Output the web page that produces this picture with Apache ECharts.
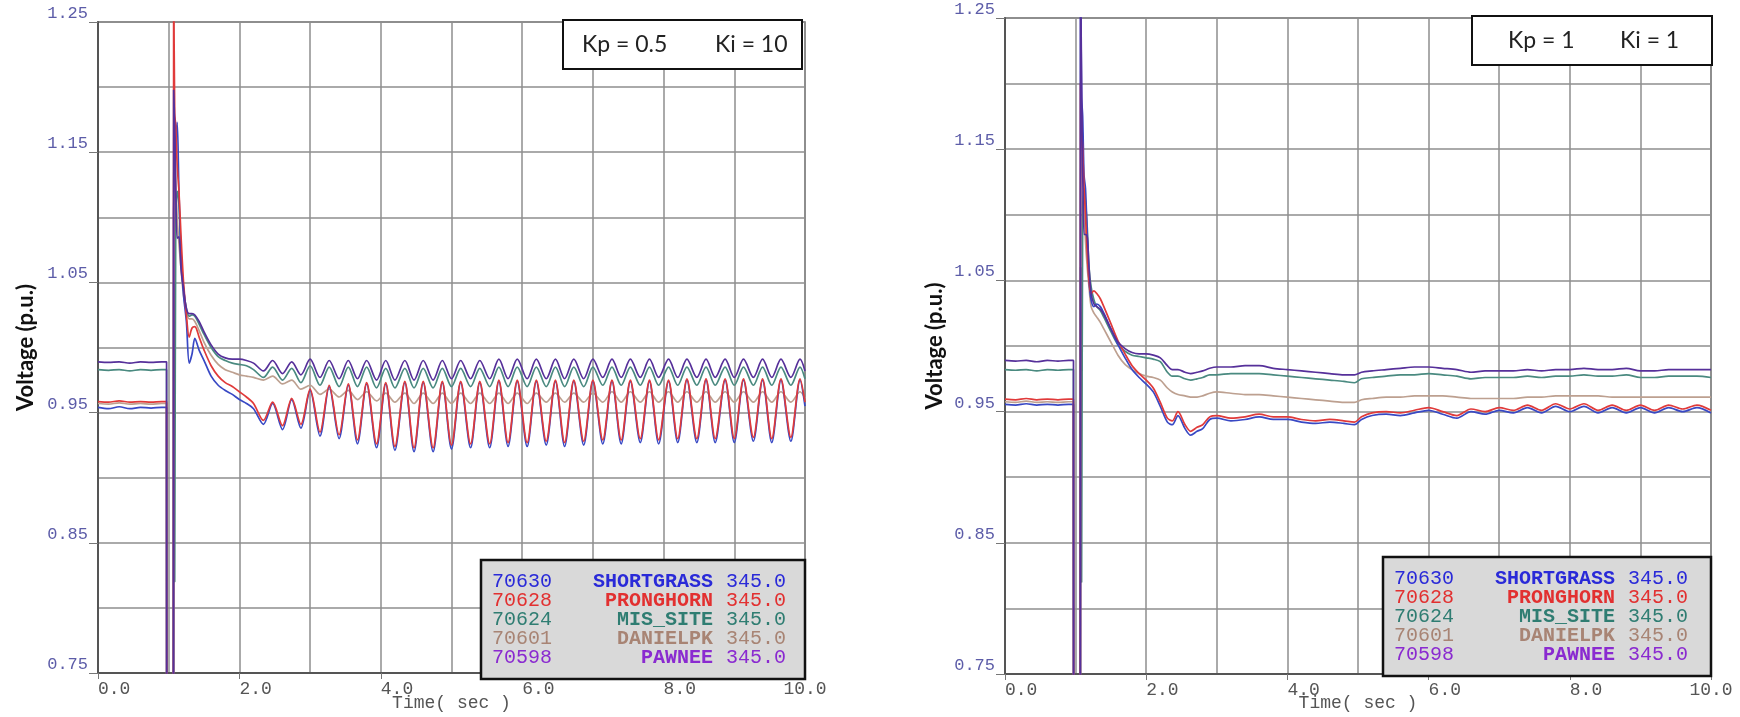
<!DOCTYPE html>
<html>
<head>
<meta charset="utf-8">
<script src="https://cdn.jsdelivr.net/npm/echarts@6.0.0/dist/echarts.min.js"></script>
<style>
  html, body { margin: 0; padding: 0; background: #ffffff; }
  #chart { width: 1740px; height: 717px; }
</style>
</head>
<body>
<div id="chart"></div>
<script>
// ---- Bus list (legend rows) ----
const busIds = ['70630', '70628', '70624', '70601', '70598'];
const busNames = ['SHORTGRASS', 'PRONGHORN', 'MIS_SITE', 'DANIELPK', 'PAWNEE'];
const busKv = [345.0, 345.0, 345.0, 345.0, 345.0];

// ---- Controller gains of the two runs ----
const kpGain = [0.5, 1];
const kiGain = [10, 1];

// ---- Axis tick labels ----
const xTicks = [0, 2, 4, 6, 8, 10];
const yTicks = [0.75, 0.85, 0.95, 1.05, 1.15, 1.25];

// ---- Run A: Kp = 0.5, Ki = 10 (time in s, voltage in p.u.) ----
const tA = [0, 0.15, 0.3, 0.45, 0.6, 0.75, 0.9, 0.97,
  0.975, 1.065,
  1.07, 1.085, 1.1, 1.12, 1.145, 1.175, 1.21, 1.25, 1.29, 1.33, 1.37, 1.43, 1.5, 1.6, 1.7, 1.8, 1.9, 2.0, 2.1, 2.2,
  2.34, 2.47, 2.61, 2.74, 2.87, 3.0, 3.14, 3.27, 3.41, 3.54, 3.67, 3.8, 3.94, 4.07, 4.2, 4.34, 4.47, 4.6, 4.74, 4.87,
  5.0, 5.13, 5.27, 5.4, 5.54, 5.67, 5.8, 5.93, 6.07, 6.2, 6.34, 6.47, 6.6, 6.73, 6.87, 7.0, 7.14, 7.27, 7.4, 7.53,
  7.67, 7.8, 7.93, 8.07, 8.2, 8.33, 8.47, 8.6, 8.73, 8.87, 9.0, 9.13, 9.27, 9.4, 9.53, 9.66, 9.8, 9.93, 10.0];

const shortgrassA = [0.954, 0.953, 0.9545, 0.953, 0.954, 0.9535, 0.954, 0.954,
  0.3, 0.3,
  1.1, 1.14, 1.16, 1.173, 1.12, 1.07, 1.04, 1.02, 0.988, 0.995, 1.007, 0.998, 0.99, 0.978, 0.971, 0.967, 0.964, 0.96, 0.957, 0.953,
  0.941, 0.957, 0.937, 0.96, 0.938, 0.967, 0.932, 0.97, 0.93, 0.971, 0.926, 0.972, 0.923, 0.972, 0.921, 0.973, 0.92, 0.973, 0.92, 0.973,
  0.922, 0.973, 0.923, 0.973, 0.923, 0.974, 0.924, 0.974, 0.924, 0.974, 0.925, 0.974, 0.924, 0.974, 0.925, 0.974, 0.926, 0.974, 0.926, 0.974,
  0.927, 0.974, 0.926, 0.974, 0.927, 0.975, 0.927, 0.975, 0.927, 0.975, 0.927, 0.975, 0.928, 0.975, 0.927, 0.975, 0.928, 0.975, 0.955];

const pronghornA = [0.9585, 0.958, 0.959, 0.958, 0.9585, 0.958, 0.9585, 0.9585,
  0.3, 0.3,
  1.3, 1.18, 1.17, 1.14, 1.12, 1.085, 1.05, 1.025, 1.008, 1.015, 1.016, 1.008, 0.998, 0.986, 0.978, 0.973, 0.97, 0.966, 0.962, 0.957,
  0.944, 0.958, 0.94, 0.961, 0.941, 0.968, 0.935, 0.971, 0.933, 0.972, 0.929, 0.973, 0.926, 0.973, 0.924, 0.974, 0.923, 0.974, 0.923, 0.974,
  0.925, 0.974, 0.926, 0.974, 0.926, 0.975, 0.927, 0.975, 0.927, 0.975, 0.928, 0.975, 0.927, 0.975, 0.928, 0.975, 0.929, 0.975, 0.929, 0.975,
  0.93, 0.975, 0.929, 0.975, 0.93, 0.976, 0.93, 0.976, 0.93, 0.976, 0.93, 0.976, 0.931, 0.976, 0.93, 0.976, 0.931, 0.976, 0.958];

const misSiteA = [0.983, 0.9825, 0.983, 0.982, 0.983, 0.9825, 0.983, 0.983,
  0.3, 0.3,
  1.05, 0.82, 1.1, 1.12, 1.11, 1.07, 1.045, 1.03, 1.024, 1.025, 1.024, 1.018, 1.01, 1.0, 0.993, 0.99, 0.988, 0.987, 0.986, 0.983,
  0.977, 0.985, 0.975, 0.984, 0.973, 0.986, 0.971, 0.985, 0.97, 0.985, 0.97, 0.985, 0.969, 0.984, 0.969, 0.984, 0.969, 0.984, 0.969, 0.984,
  0.97, 0.984, 0.97, 0.984, 0.97, 0.985, 0.97, 0.985, 0.97, 0.985, 0.97, 0.985, 0.97, 0.985, 0.97, 0.985, 0.971, 0.985, 0.971, 0.985,
  0.971, 0.985, 0.971, 0.985, 0.971, 0.985, 0.971, 0.985, 0.971, 0.985, 0.971, 0.985, 0.971, 0.985, 0.971, 0.985, 0.971, 0.985, 0.976];

const danielpkA = [0.957, 0.9565, 0.9575, 0.9565, 0.957, 0.9565, 0.957, 0.957,
  0.3, 0.3,
  1.12, 1.15, 1.13, 1.1, 1.08, 1.06, 1.04, 1.028, 1.022, 1.022, 1.02, 1.013, 1.004, 0.994, 0.987, 0.983, 0.981, 0.979, 0.978, 0.977,
  0.975, 0.978, 0.972, 0.975, 0.968, 0.971, 0.964, 0.968, 0.962, 0.967, 0.96, 0.966, 0.959, 0.965, 0.958, 0.965, 0.957, 0.965, 0.957, 0.965,
  0.957, 0.965, 0.957, 0.965, 0.957, 0.965, 0.957, 0.965, 0.957, 0.965, 0.958, 0.965, 0.958, 0.965, 0.958, 0.965, 0.958, 0.966, 0.958, 0.966,
  0.958, 0.966, 0.958, 0.966, 0.958, 0.966, 0.958, 0.966, 0.958, 0.966, 0.958, 0.966, 0.958, 0.966, 0.958, 0.966, 0.958, 0.966, 0.961];

const pawneeA = [0.989, 0.9885, 0.989, 0.988, 0.989, 0.9885, 0.989, 0.989,
  0.3, 0.3,
  1.198, 1.17, 1.12, 1.084, 1.085, 1.06, 1.045, 1.03, 1.026, 1.026, 1.025, 1.02, 1.012, 1.002, 0.995, 0.992, 0.991, 0.991, 0.99, 0.988,
  0.982, 0.99, 0.98, 0.989, 0.979, 0.991, 0.977, 0.99, 0.976, 0.99, 0.976, 0.99, 0.975, 0.99, 0.975, 0.99, 0.975, 0.99, 0.975, 0.99,
  0.976, 0.99, 0.976, 0.99, 0.976, 0.991, 0.976, 0.991, 0.976, 0.991, 0.976, 0.991, 0.976, 0.991, 0.976, 0.991, 0.977, 0.991, 0.977, 0.991,
  0.977, 0.991, 0.977, 0.991, 0.977, 0.991, 0.977, 0.991, 0.977, 0.991, 0.977, 0.991, 0.977, 0.991, 0.977, 0.991, 0.977, 0.991, 0.982];

// ---- Run B: Kp = 1, Ki = 1 ----
const tB = [0, 0.15, 0.3, 0.45, 0.6, 0.75, 0.9, 0.97,
  0.975, 1.065,
  1.07, 1.085, 1.1, 1.12, 1.14, 1.165, 1.19, 1.22, 1.26, 1.3, 1.35, 1.4, 1.5, 1.6, 1.7, 1.8, 1.9, 2.0, 2.1, 2.2,
  2.3, 2.37, 2.45, 2.55, 2.63, 2.72, 2.8, 2.9,
  3.0, 3.2, 3.4, 3.6, 3.8, 4.0, 4.2, 4.4, 4.6, 4.8, 4.95,
  5.05, 5.2, 5.4, 5.6, 5.8, 6.0, 6.2, 6.4, 6.6, 6.8, 7.0, 7.2, 7.4, 7.6, 7.8, 8.0, 8.2, 8.4, 8.6, 8.8, 9.0, 9.2, 9.4, 9.6, 9.8, 10.0];

const shortgrassB = [0.9555, 0.955, 0.956, 0.955, 0.9555, 0.955, 0.9555, 0.9555,
  0.3, 0.3,
  1.3, 1.19, 1.175, 1.13, 1.12, 1.085, 1.05, 1.035, 1.03, 1.032, 1.03, 1.025, 1.013, 1.001, 0.991, 0.982, 0.976, 0.971, 0.965, 0.954,
  0.942, 0.94, 0.947, 0.937, 0.932, 0.935, 0.937, 0.944,
  0.945, 0.943, 0.944, 0.946, 0.944, 0.944, 0.942, 0.941, 0.942, 0.941, 0.94,
  0.944, 0.947, 0.948, 0.947, 0.949, 0.951, 0.948, 0.945, 0.95, 0.948, 0.951, 0.949, 0.953, 0.949, 0.954, 0.95, 0.954, 0.949, 0.953, 0.949,
  0.953, 0.949, 0.953, 0.95, 0.953, 0.949];

const pronghornB = [0.9595, 0.959, 0.96, 0.959, 0.9595, 0.959, 0.9595, 0.9595,
  0.3, 0.3,
  1.2, 1.165, 1.15, 1.12, 1.1, 1.07, 1.05, 1.04, 1.042, 1.04, 1.036, 1.03, 1.017, 1.004, 0.994, 0.985, 0.979, 0.974, 0.968, 0.957,
  0.945, 0.943, 0.95, 0.94, 0.935, 0.938, 0.94, 0.946,
  0.947, 0.945, 0.946, 0.948, 0.946, 0.946, 0.944, 0.943, 0.944, 0.943, 0.942,
  0.946, 0.949, 0.95, 0.949, 0.951, 0.953, 0.95, 0.947, 0.952, 0.95, 0.953, 0.951, 0.955, 0.951, 0.956, 0.952, 0.956, 0.951, 0.955, 0.951,
  0.955, 0.951, 0.955, 0.952, 0.955, 0.951];

const misSiteB = [0.982, 0.9815, 0.982, 0.981, 0.982, 0.9815, 0.982, 0.982,
  0.3, 0.3,
  1.06, 0.82, 1.1, 1.12, 1.11, 1.09, 1.06, 1.045, 1.035, 1.03, 1.027, 1.022, 1.011, 1.001, 0.996, 0.993, 0.992, 0.991, 0.99, 0.988,
  0.98, 0.977, 0.977, 0.975, 0.974, 0.975, 0.976, 0.978,
  0.978, 0.979, 0.979, 0.979, 0.978, 0.977, 0.976, 0.975, 0.974, 0.973, 0.972,
  0.975, 0.976, 0.977, 0.978, 0.978, 0.979, 0.978, 0.977, 0.975, 0.976, 0.976, 0.976, 0.977, 0.976, 0.977, 0.977, 0.978, 0.977, 0.977, 0.978,
  0.976, 0.976, 0.977, 0.977, 0.977, 0.976];

const danielpkB = [0.9575, 0.957, 0.958, 0.957, 0.9575, 0.957, 0.9575, 0.9575,
  0.3, 0.3,
  1.1, 1.16, 1.13, 1.11, 1.08, 1.06, 1.045, 1.03, 1.025, 1.022, 1.018, 1.013, 1.003, 0.993, 0.986, 0.982, 0.979, 0.977, 0.976, 0.974,
  0.968, 0.965, 0.963, 0.962, 0.961, 0.961, 0.962, 0.964,
  0.965, 0.964, 0.963, 0.963, 0.962, 0.961, 0.96, 0.959, 0.958, 0.957, 0.957,
  0.959, 0.96, 0.961, 0.961, 0.962, 0.962, 0.962, 0.961, 0.96, 0.96, 0.96, 0.96, 0.961, 0.961, 0.962, 0.962, 0.962, 0.962, 0.961, 0.961,
  0.961, 0.961, 0.961, 0.961, 0.961, 0.961];

const pawneeB = [0.989, 0.9885, 0.989, 0.988, 0.989, 0.9885, 0.989, 0.989,
  0.3, 0.3,
  1.3, 1.198, 1.14, 1.085, 1.085, 1.083, 1.06, 1.04, 1.032, 1.03, 1.028, 1.024, 1.013, 1.003, 0.998, 0.995, 0.994, 0.994, 0.993, 0.991,
  0.985, 0.982, 0.982, 0.98, 0.979, 0.98, 0.981, 0.983,
  0.984, 0.984, 0.985, 0.985, 0.983, 0.982, 0.981, 0.98, 0.979, 0.978, 0.978,
  0.98, 0.981, 0.982, 0.983, 0.984, 0.984, 0.983, 0.982, 0.98, 0.981, 0.981, 0.981, 0.982, 0.981, 0.982, 0.982, 0.983, 0.982, 0.982, 0.983,
  0.981, 0.981, 0.982, 0.982, 0.982, 0.982];

// ---- Styling ----
const lineColors = ['#3848c4', '#e03a3a', '#4a8a80', '#bda090', '#56309a'];
const legendColors = ['#2a2ad8', '#e23030', '#2f7d72', '#a88474', '#8a2ad0'];
const drawOrder = [3, 2, 0, 1, 4];
const monoFont = 'Liberation Mono';

const panels = [
  {
    time: tA,
    values: [shortgrassA, pronghornA, misSiteA, danielpkA, pawneeA],
    grid: { left: 98, top: 22, width: 707, height: 657 },
    note: { x: 563, y: 20, w: 239, h: 49, kpX: 582, kiX: 715 },
    legend: { x: 481, y: 560, w: 324, h: 119 },
    yNameGap: 61, xNameGap: 21
  },
  {
    time: tB,
    values: [shortgrassB, pronghornB, misSiteB, danielpkB, pawneeB],
    grid: { left: 1005, top: 18, width: 706, height: 658 },
    note: { x: 1472, y: 16, w: 240, h: 49, kpX: 1508, kiX: 1620 },
    legend: { x: 1383, y: 557, w: 328, h: 119 },
    yNameGap: 59, xNameGap: 20
  }
];

const grids = [], xAxes = [], yAxes = [], series = [], graphic = [];

panels.forEach((p, pi) => {
  grids.push(Object.assign({ show: true, borderColor: '#6a6a6a', borderWidth: 1.5, containLabel: false }, p.grid));
  const gx = pi * 2;

  // axes carrying the grid lines
  xAxes.push({
    gridIndex: pi, type: 'value', min: 0, max: 10, interval: 1, position: 'bottom',
    axisLine: { show: true, lineStyle: { color: '#555', width: 2 } },
    axisTick: { show: false }, axisLabel: { show: false },
    splitLine: { show: true, lineStyle: { color: '#8e8e8e', width: 1.5 } },
    name: 'Time( sec )', nameLocation: 'middle', nameGap: p.xNameGap,
    nameTextStyle: { fontFamily: monoFont, fontSize: 18, color: '#555' }
  });
  // axes carrying the tick labels
  xAxes.push({
    gridIndex: pi, type: 'value', min: 0, max: 10, interval: 2, position: 'bottom',
    axisLine: { show: false },
    axisTick: { show: true, length: 6, customValues: xTicks, lineStyle: { color: '#777', width: 1 } },
    axisLabel: { customValues: xTicks, formatter: v => Number(v).toFixed(1), color: '#555',
      fontFamily: monoFont, fontSize: 18, margin: 7, align: 'left', alignMaxLabel: 'center' },
    splitLine: { show: false }
  });

  yAxes.push({
    gridIndex: pi, type: 'value', min: 0.75, max: 1.25, interval: 0.05, position: 'left',
    axisLine: { show: true, lineStyle: { color: '#555', width: 2 } },
    axisTick: { show: false }, axisLabel: { show: false },
    splitLine: { show: true, lineStyle: { color: '#8e8e8e', width: 1.5 } },
    name: 'Voltage (p.u.)', nameLocation: 'middle', nameGap: p.yNameGap, nameRotate: 90,
    nameTextStyle: { fontFamily: 'Lato', fontWeight: 'bold', fontSize: 22, color: '#111' }
  });
  yAxes.push({
    gridIndex: pi, type: 'value', min: 0.75, max: 1.25, position: 'left',
    axisLine: { show: false },
    axisTick: { show: true, length: 9, customValues: yTicks, lineStyle: { color: '#777', width: 1 } },
    axisLabel: { customValues: yTicks, formatter: v => Number(v).toFixed(2), color: '#5c5ca8',
      fontFamily: monoFont, fontSize: 17, margin: 10, verticalAlign: 'bottom' },
    splitLine: { show: false }
  });

  drawOrder.forEach(k => {
    series.push({
      type: 'line', name: busNames[k],
      xAxisIndex: gx, yAxisIndex: gx,
      data: p.time.map((t, i) => [t, p.values[k][i]]),
      showSymbol: false, symbol: 'none', smooth: 0.3, clip: true,
      lineStyle: { color: lineColors[k], width: 1.7 },
      itemStyle: { color: lineColors[k] },
      emphasis: { disabled: true }
    });
  });

  // gain annotation
  const n = p.note;
  graphic.push({ type: 'rect', z: 100, shape: { x: n.x, y: n.y, width: n.w, height: n.h },
    style: { fill: '#ffffff', stroke: '#111', lineWidth: 2 } });
  graphic.push({ type: 'text', z: 101, x: n.kpX, y: n.y + n.h / 2,
    style: { text: 'Kp = ' + kpGain[pi], font: '23px Lato', fill: '#222',
      align: 'left', verticalAlign: 'middle', textAlign: 'left', textVerticalAlign: 'middle' } });
  graphic.push({ type: 'text', z: 101, x: n.kiX, y: n.y + n.h / 2,
    style: { text: 'Ki = ' + kiGain[pi], font: '23px Lato', fill: '#222',
      align: 'left', verticalAlign: 'middle', textAlign: 'left', textVerticalAlign: 'middle' } });

  // bus legend
  const L = p.legend;
  graphic.push({ type: 'rect', z: 100, shape: { x: L.x, y: L.y, width: L.w, height: L.h },
    style: { fill: '#d9d9d9', stroke: '#111', lineWidth: 2.5 } });
  busIds.forEach((id, k) => {
    const cy = L.y + 22 + 19 * k;
    const col = legendColors[k];
    graphic.push({ type: 'text', z: 101, x: L.x + 11, y: cy,
      style: { text: id, font: '20px "' + monoFont + '"', fill: col,
        align: 'left', verticalAlign: 'middle', textAlign: 'left', textVerticalAlign: 'middle' } });
    graphic.push({ type: 'text', z: 101, x: L.x + 232, y: cy,
      style: { text: busNames[k], font: 'bold 20px "' + monoFont + '"', fill: col,
        align: 'right', verticalAlign: 'middle', textAlign: 'right', textVerticalAlign: 'middle' } });
    graphic.push({ type: 'text', z: 101, x: L.x + 245, y: cy,
      style: { text: busKv[k].toFixed(1), font: '20px "' + monoFont + '"', fill: col,
        align: 'left', verticalAlign: 'middle', textAlign: 'left', textVerticalAlign: 'middle' } });
  });
});

const chart = echarts.init(document.getElementById('chart'), null, { renderer: 'canvas' });
chart.setOption({
  backgroundColor: '#ffffff',
  animation: false,
  grid: grids,
  xAxis: xAxes,
  yAxis: yAxes,
  series: series,
  graphic: graphic
});
</script>
</body>
</html>
